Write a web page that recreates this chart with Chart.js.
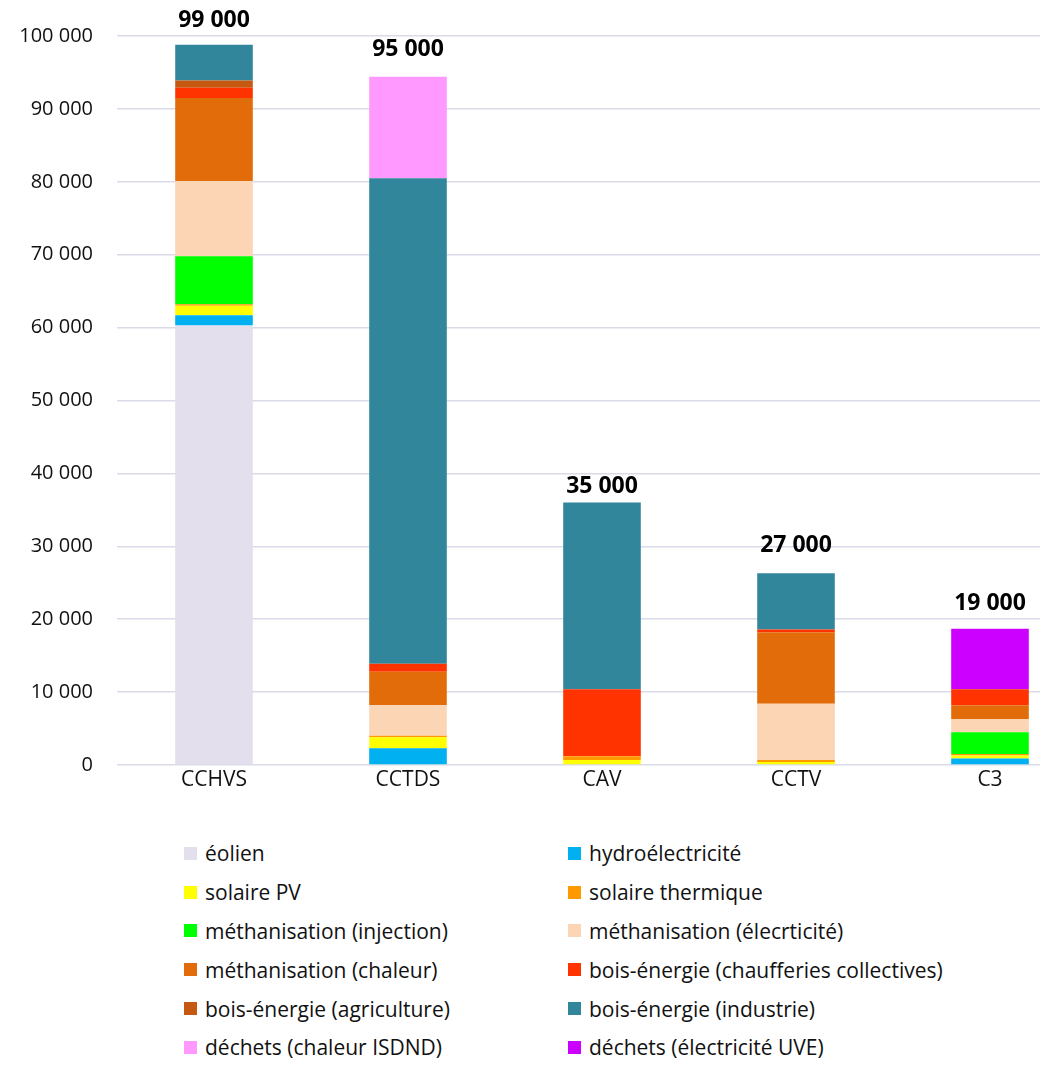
<!DOCTYPE html>
<html>
<head>
<meta charset="utf-8">
<script src="https://cdn.jsdelivr.net/npm/chart.js@4.4.0/dist/chart.umd.min.js"></script>
<style>
  body { margin: 0; background: #fff; overflow: hidden; width: 1040px; height: 1086px; font-family: "Open Sans", sans-serif; }
  #wrap { position: absolute; left: 0; top: 0; width: 1090px; height: 801px; }
  #legend { position: absolute; left: 184px; top: 834px; display: grid; grid-template-columns: 384px 420px; }
  .item { display: flex; align-items: center; height: 38.8px; font-size: 21px; color: #111; white-space: nowrap; }
  .key { width: 13px; height: 13px; margin-right: 8px; flex: none; }
</style>
</head>
<body>
<div id="wrap"><canvas id="chart" width="1090" height="801"></canvas></div>
<div id="legend"></div>
<script>
// territoires
var categories = ['CCHVS', 'CCTDS', 'CAV', 'CCTV', 'C3'];

// production par filière (MWh)
var eolien          = [60300,     0,     0,    0,    0];
var hydro           = [ 1400,  2300,     0,    0,  900];
var solairePV       = [ 1300,  1500,   700,  400,  400];
var solaireTherm    = [  200,   200,   500,  300,  200];
var methInjection   = [ 6600,     0,     0,    0, 3000];
var methElec        = [10300,  4200,     0, 7700, 1800];
var methChaleur     = [11400,  4600,     0, 9800, 1900];
var boisChaufferies = [ 1400,  1100,  9200,  400, 2200];
var boisAgriculture = [ 1000,     0,     0,    0,    0];
var boisIndustrie   = [ 4900, 66600, 25600, 7700,    0];
var dechetsISDND    = [    0, 13900,     0,    0,    0];
var dechetsUVE      = [    0,     0,     0,    0, 8300];

// totaux affichés au-dessus des barres
var totals = [99000, 95000, 35000, 27000, 19000];

var yTicks = [0, 10000, 20000, 30000, 40000, 50000, 60000, 70000, 80000, 90000, 100000];

var series = [
  { label: 'éolien', data: eolien, color: '#E4DFEC' },
  { label: 'hydroélectricité', data: hydro, color: '#00B0F0' },
  { label: 'solaire PV', data: solairePV, color: '#FFFF00' },
  { label: 'solaire thermique', data: solaireTherm, color: '#FF9900' },
  { label: 'méthanisation (injection)', data: methInjection, color: '#00FF00' },
  { label: 'méthanisation (élecrticité)', data: methElec, color: '#FCD5B4' },
  { label: 'méthanisation (chaleur)', data: methChaleur, color: '#E26B0A' },
  { label: 'bois-énergie (chaufferies collectives)', data: boisChaufferies, color: '#FF3300' },
  { label: 'bois-énergie (agriculture)', data: boisAgriculture, color: '#C65911' },
  { label: 'bois-énergie (industrie)', data: boisIndustrie, color: '#31869B' },
  { label: 'déchets (chaleur ISDND)', data: dechetsISDND, color: '#FF99FF' },
  { label: 'déchets (électricité UVE)', data: dechetsUVE, color: '#CC00FF' }
];

function fmt(v) {
  return String(v).replace(/\B(?=(\d{3})+(?!\d))/g, ' ');
}

var datasets = series.map(function (s) {
  return {
    type: 'bar',
    label: s.label,
    data: s.data,
    backgroundColor: s.color,
    borderWidth: 0,
    stack: 'prod',
    categoryPercentage: 1,
    barPercentage: 0.4
  };
});

// série invisible qui porte les étiquettes de total
datasets.push({
  type: 'line',
  label: 'total',
  data: totals,
  stack: 'total',
  showLine: false,
  pointRadius: 0,
  pointHoverRadius: 0
});

var totalLabels = {
  id: 'totalLabels',
  afterDatasetsDraw: function (chart) {
    var ctx = chart.ctx;
    var meta = chart.getDatasetMeta(chart.data.datasets.length - 1);
    ctx.save();
    ctx.font = 'bold 23px "Open Sans"';
    ctx.fillStyle = '#000';
    ctx.textAlign = 'center';
    ctx.textBaseline = 'middle';
    meta.data.forEach(function (pt, i) {
      ctx.fillText(fmt(totals[i]), pt.x, pt.y - 23);
    });
    ctx.restore();
  }
};

new Chart(document.getElementById('chart'), {
  data: { labels: categories, datasets: datasets },
  options: {
    responsive: false,
    devicePixelRatio: 1,
    animation: false,
    layout: { padding: { top: 22, right: 3, bottom: 0, left: 0 } },
    plugins: {
      legend: { display: false },
      tooltip: { enabled: false }
    },
    scales: {
      x: {
        stacked: true,
        grid: { display: false },
        border: { display: false },
        ticks: { color: '#111', padding: -6, font: { family: 'Open Sans', size: 21 } }
      },
      y: {
        stacked: true,
        min: 0,
        max: 100000,
        afterFit: function (scale) { scale.width = 117; },
        afterBuildTicks: function (scale) {
          scale.ticks = yTicks.map(function (v) { return { value: v }; });
        },
        grid: { color: '#D9DCE8', lineWidth: 1.5, drawTicks: false },
        border: { display: false },
        ticks: {
          color: '#111',
          padding: 24,
          font: { family: 'Open Sans', size: 20 },
          callback: function (v) { return fmt(v); }
        }
      }
    }
  },
  plugins: [totalLabels]
});

// légende sur deux colonnes
var legend = document.getElementById('legend');
series.forEach(function (s) {
  var item = document.createElement('div');
  item.className = 'item';
  var key = document.createElement('span');
  key.className = 'key';
  key.style.backgroundColor = s.color;
  var txt = document.createElement('span');
  txt.textContent = s.label;
  item.appendChild(key);
  item.appendChild(txt);
  legend.appendChild(item);
});
</script>
</body>
</html>
